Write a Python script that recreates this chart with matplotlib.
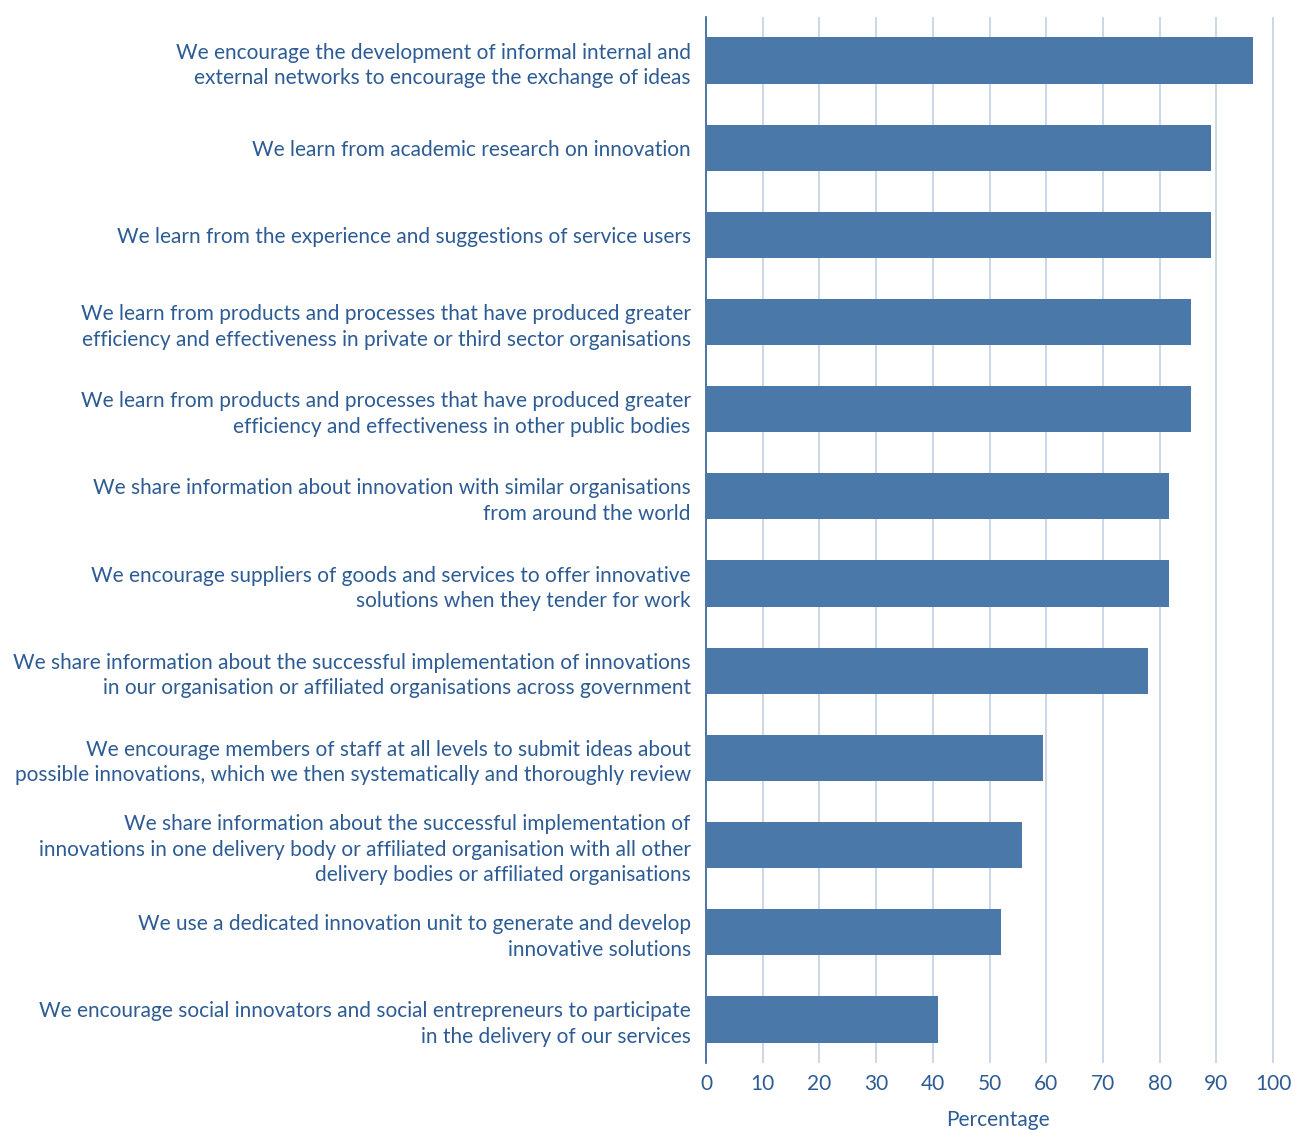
import matplotlib
matplotlib.use("Agg")
import matplotlib.pyplot as plt

labels = [
    "We encourage the development of informal internal and\nexternal networks to encourage the exchange of ideas",
    "We learn from academic research on innovation",
    "We learn from the experience and suggestions of service users",
    "We learn from products and processes that have produced greater\nefficiency and effectiveness in private or third sector organisations",
    "We learn from products and processes that have produced greater\nefficiency and effectiveness in other public bodies",
    "We share information about innovation with similar organisations\nfrom around the world",
    "We encourage suppliers of goods and services to offer innovative\nsolutions when they tender for work",
    "We share information about the successful implementation of innovations\nin our organisation or affiliated organisations across government",
    "We encourage members of staff at all levels to submit ideas about\npossible innovations, which we then systematically and thoroughly review",
    "We share information about the successful implementation of\ninnovations in one delivery body or affiliated organisation with all other\ndelivery bodies or affiliated organisations",
    "We use a dedicated innovation unit to generate and develop\ninnovative solutions",
    "We encourage social innovators and social entrepreneurs to participate\nin the delivery of our services",
]
percent = [96.5, 89.1, 89.1, 85.5, 85.5, 81.7, 81.7, 78.0, 59.4, 55.7, 52.0, 40.9]

text_col = "#2d5c95"
bar_col = "#4a78a8"
grid_col = "#c6d4e6"

plt.rcParams["font.family"] = ["Lato", "DejaVu Sans"]

fig = plt.figure(figsize=(12.93, 11.30), dpi=100)
ax = fig.add_axes([0.546, 0.0593, 0.443, 0.9257])

ypos = list(range(len(labels)))
ax.barh(ypos, percent, height=0.53, color=bar_col, zorder=3)

ax.set_ylim(len(labels) - 0.5, -0.5)
ax.set_xlim(0, 101)
ax.set_xticks(range(0, 101, 10))
ax.set_yticks(ypos)
ax.set_yticklabels(labels, fontsize=15, color=text_col, linespacing=1.35)

for x in range(10, 101, 10):
    ax.axvline(x, color=grid_col, lw=1.3, zorder=1)

for s in ["top", "right", "bottom"]:
    ax.spines[s].set_visible(False)
ax.spines["left"].set_color(text_col)
ax.spines["left"].set_linewidth(1.2)

ax.tick_params(axis="y", length=0, pad=11)
ax.tick_params(axis="x", length=0, pad=8, labelsize=15, labelcolor=text_col)
ax.set_xlabel("Percentage", fontsize=15, color=text_col, labelpad=12)
ax.xaxis.set_label_coords(0.51, -0.045)

fig.savefig("out.png", dpi=100)
